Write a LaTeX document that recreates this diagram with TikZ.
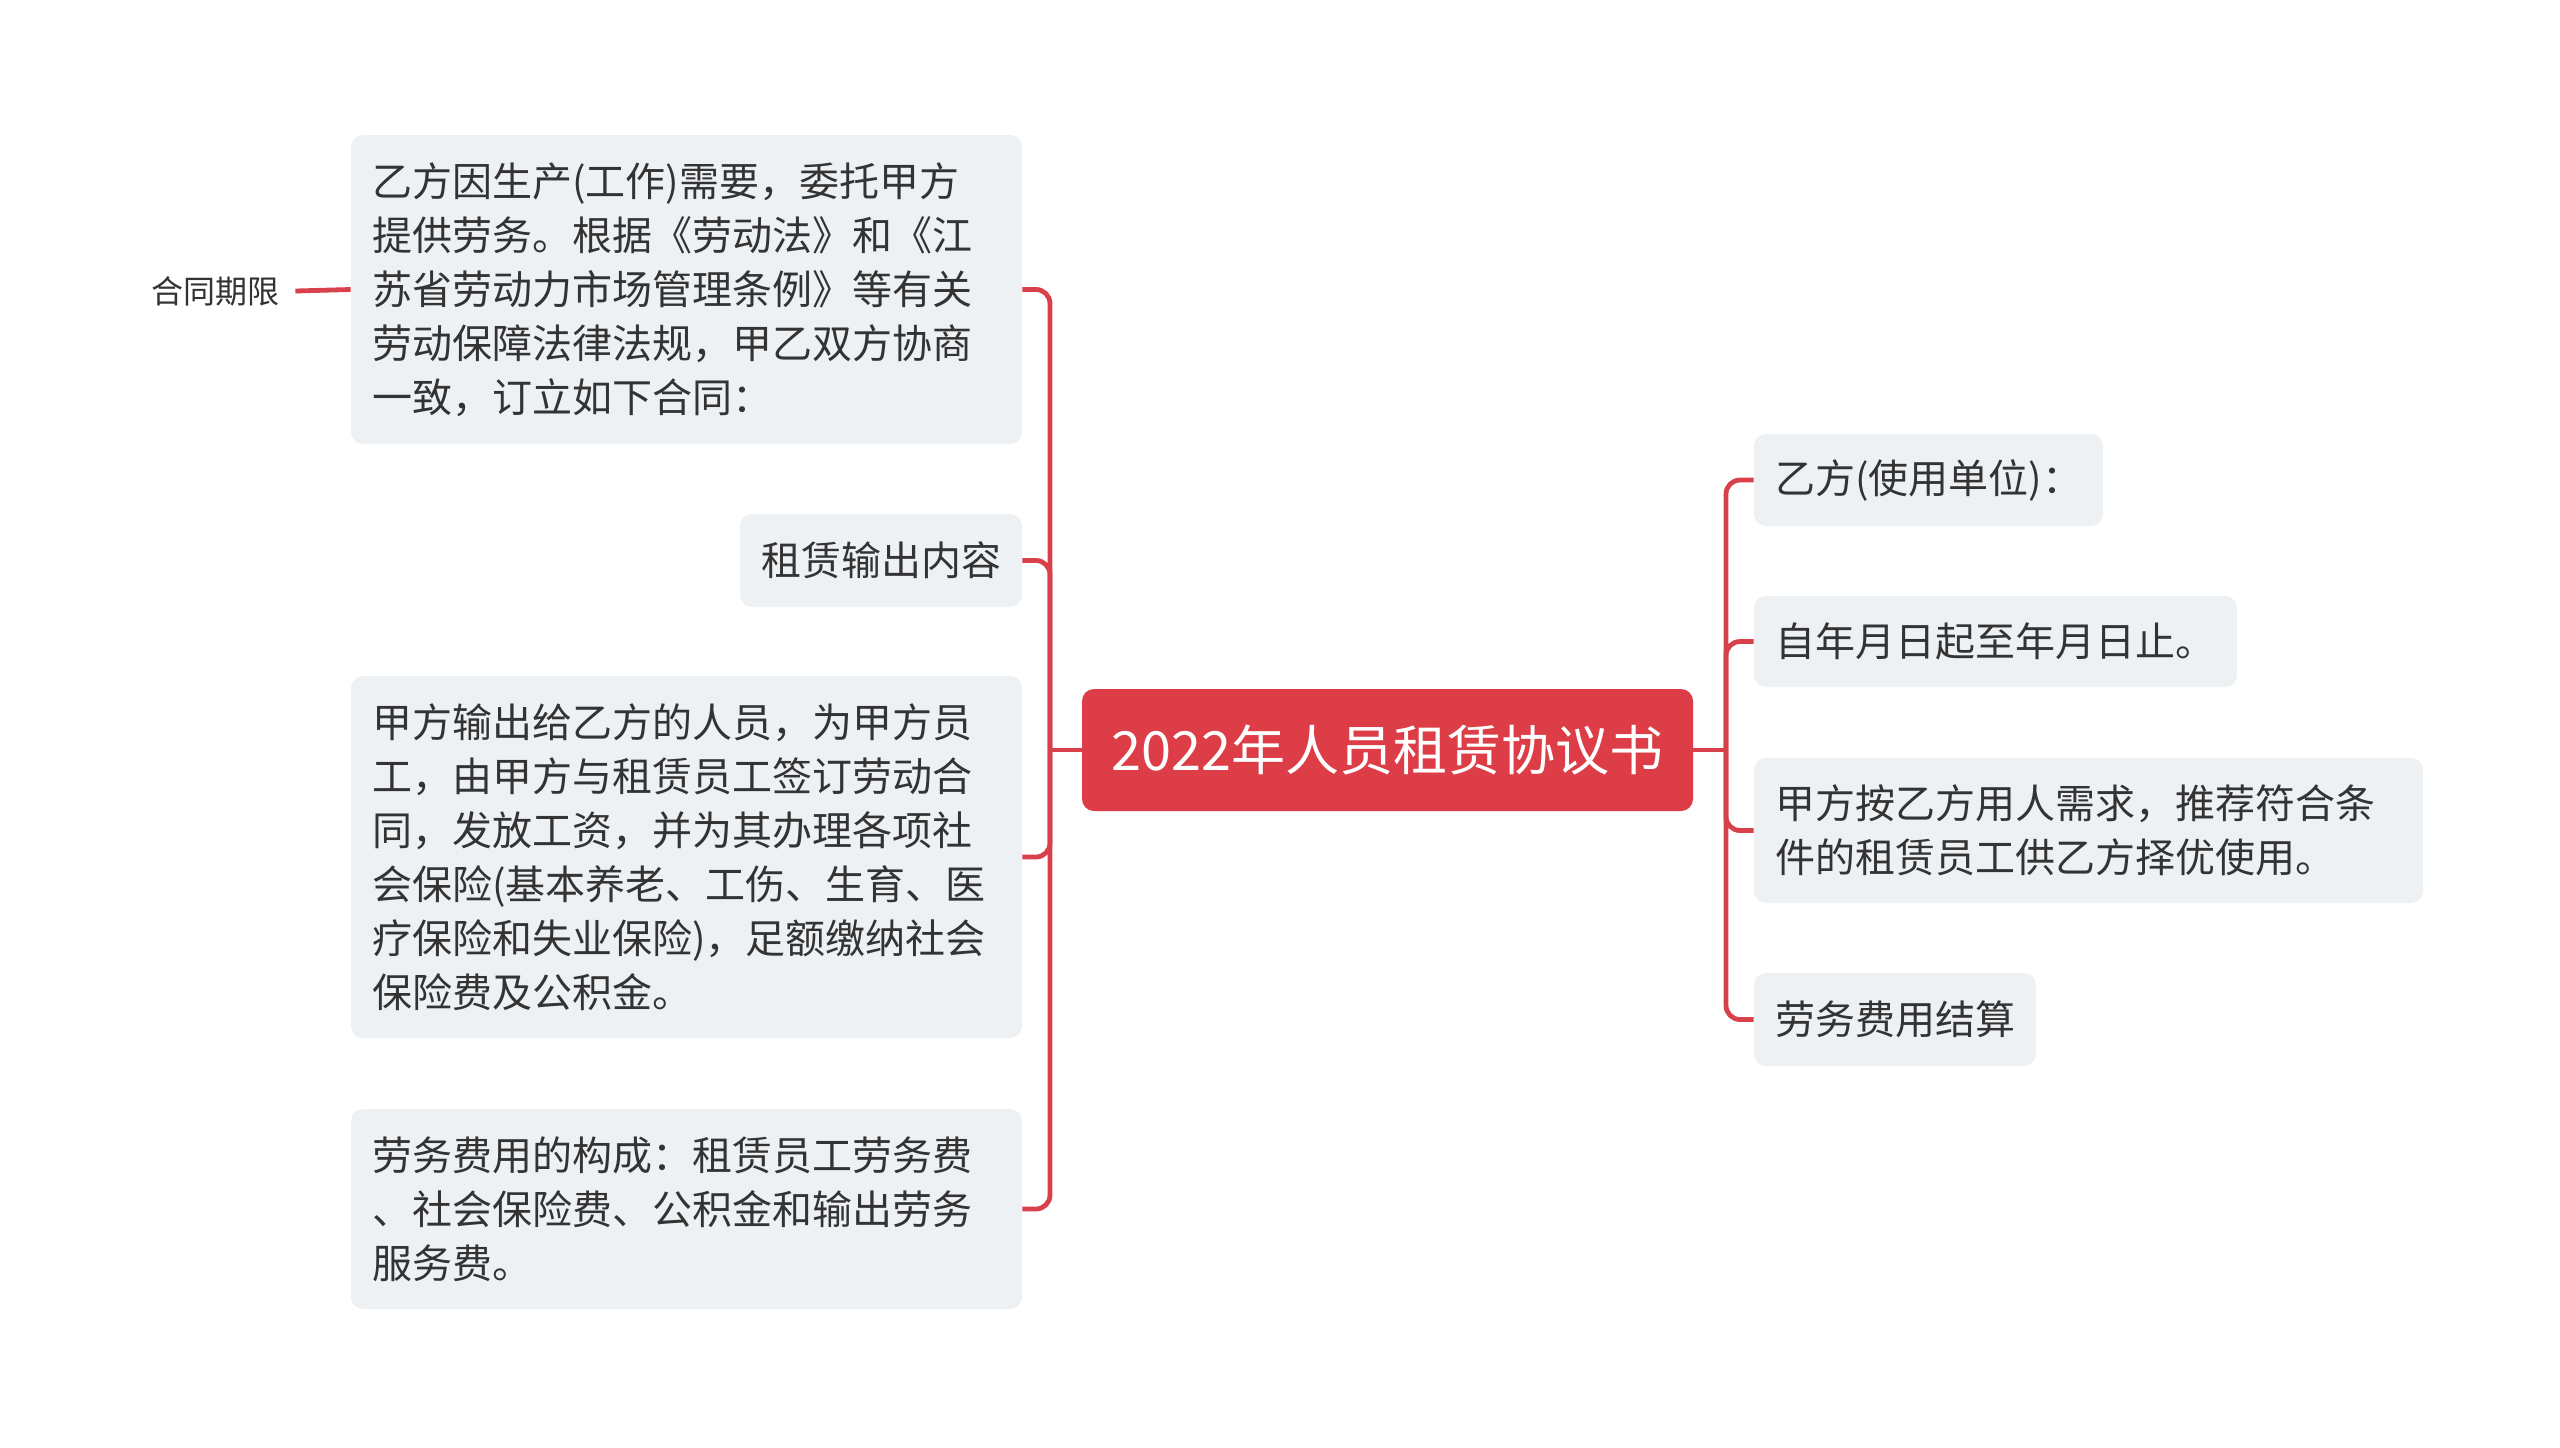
\documentclass[tikz,border=0pt]{standalone}
\usepackage{fontspec}
\newfontfamily\cjk{Noto Sans CJK SC}
\definecolor{linered}{HTML}{D8404A}
\definecolor{rootred}{HTML}{DC3D46}
\definecolor{boxgray}{HTML}{EEF1F4}
\definecolor{txtgray}{HTML}{333333}
\tikzset{
  topic/.style={fill=boxgray,text=txtgray,rounded corners=6pt,align=left,inner xsep=10.5pt,inner ysep=0pt,font=\cjk\fontsize{20}{27}\selectfont},
  maintopic/.style={fill=rootred,text=white,rounded corners=6pt,inner sep=0pt,minimum width=305.5pt,minimum height=61pt,font=\cjk\fontsize{27}{32}\selectfont},
  branch/.style={draw=linered,line width=2.4pt,rounded corners=7pt},
  smalllabel/.style={text=txtgray,inner xsep=8pt,font=\cjk\fontsize{16}{20}\selectfont}
}
\begin{document}
\begin{tikzpicture}[x=0.5pt,y=-0.5pt]
       \fill[white] (0,0) rectangle (2560,1447);
       \useasboundingbox (0,0) rectangle (2560,1447);
       \node[maintopic] (root) at (1387.5,750) {2022年人员租赁协议书};
       \coordinate (trunkL) at (1050,750);
       \coordinate (trunkR) at (1726,750);
       \node[topic,text width=314.5pt,minimum height=154.5pt] (b1) at (686.5,289.5) {乙方因生产(工作)需要，委托甲方\\提供劳务。根据《劳动法》和《江\\苏省劳动力市场管理条例》等有关\\劳动保障法律法规，甲乙双方协商\\一致，订立如下合同：};
       \node[topic,text width=120pt,minimum height=46.5pt] (b2) at (881,560.5) {租赁输出内容};
       \node[topic,text width=314.5pt,minimum height=181pt] (b3) at (686.5,857) {甲方输出给乙方的人员，为甲方员\\工，由甲方与租赁员工签订劳动合\\同，发放工资，并为其办理各项社\\会保险(基本养老、工伤、生育、医\\疗保险和失业保险)，足额缴纳社会\\保险费及公积金。};
       \node[topic,text width=314.5pt,minimum height=100pt] (b4) at (686.5,1209) {劳务费用的构成：租赁员工劳务费\\、社会保险费、公积金和输出劳务\\服务费。};
       \node[smalllabel] (term) at (215,291) {合同期限};
       \node[topic,text width=153.5pt,minimum height=46pt] (r1) at (1928.5,480) {乙方(使用单位)：};
       \node[topic,text width=220.5pt,minimum height=45.5pt] (r2) at (1995.5,641.5) {自年月日起至年月日止。};
       \node[topic,text width=313.5pt,minimum height=72.5pt] (r3) at (2088.5,830.5) {甲方按乙方用人需求，推荐符合条\\件的租赁员工供乙方择优使用。};
       \node[topic,text width=120pt,minimum height=46.5pt] (r4) at (1895,1019.5) {劳务费用结算};
       \draw[branch] (root.west) -- (trunkL);
       \draw[branch] (root.east) -- (trunkR);
       \foreach \b in {b1,b2,b3,b4}
         \draw[branch] (trunkL) |- (\b.east);
       \foreach \r in {r1,r2,r3,r4}
         \draw[branch] (trunkR) |- (\r.west);
       \draw[branch] (b1.west) -- (term.east);
     \end{tikzpicture}
\end{document}
